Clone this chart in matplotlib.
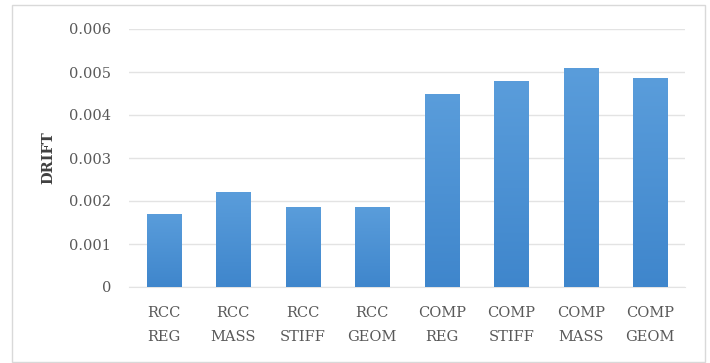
import matplotlib.pyplot as plt
import matplotlib.colors as mcolors
import numpy as np

# drift per model case
cases = ["RCC\nREG", "RCC\nMASS", "RCC\nSTIFF", "RCC\nGEOM",
         "COMP\nREG", "COMP\nSTIFF", "COMP\nMASS", "COMP\nGEOM"]
drift = [0.0017, 0.0022, 0.00186, 0.00186, 0.0045, 0.00478, 0.0051, 0.00486]
yticks = [0, 0.001, 0.002, 0.003, 0.004, 0.005, 0.006]
ytick_labels = ["0", "0.001", "0.002", "0.003", "0.004", "0.005", "0.006"]

plt.rcParams['font.family'] = ['DejaVu Serif']

fig = plt.figure(figsize=(7.10, 3.63), dpi=100, facecolor='white')
ax = fig.add_axes([129 / 710, 1 - 287 / 363, (685 - 129) / 710, (287 - 29) / 363])

x = np.arange(len(cases))
bars = ax.bar(x, drift, width=0.49, color='none', edgecolor='none', zorder=3)

# light-to-dark blue fill inside each bar
cmap = mcolors.LinearSegmentedColormap.from_list('barblue', ['#3f86cc', '#5a9ddb'])
grad = np.linspace(0, 1, 256).reshape(-1, 1)
for b in bars:
    x0, y0 = b.get_x(), b.get_y()
    w, h = b.get_width(), b.get_height()
    im = ax.imshow(grad, cmap=cmap, origin='lower', aspect='auto',
                   extent=[x0, x0 + w, y0, y0 + h], zorder=3)
    im.set_clip_path(b)

ax.set_xlim(-0.5, len(cases) - 0.5)
ax.set_ylim(0, 0.006)
ax.set_yticks(yticks)
ax.set_yticklabels(ytick_labels)
ax.set_xticks(x)
ax.set_xticklabels(cases, linespacing=1.9)
ax.yaxis.grid(True, color='#e3e3e3', linewidth=1.0, zorder=0)
ax.set_axisbelow(True)

for s in ['top', 'right', 'left']:
    ax.spines[s].set_visible(False)
ax.spines['bottom'].set_color('#e3e3e3')
ax.tick_params(axis='both', length=0, labelsize=10.5, colors='#595959')
ax.tick_params(axis='y', pad=13)
ax.tick_params(axis='x', pad=14)

ax.set_ylabel("DRIFT", fontsize=10.5, fontweight='bold', color='#404040', labelpad=10)

# outer chart frame
fig.patches.append(plt.Rectangle((12 / 710, 1 / 363), 693 / 710, 357 / 363,
                                 transform=fig.transFigure, fill=False,
                                 edgecolor='#d9d9d9', linewidth=1.0))

fig.savefig("out.png", dpi=100)
